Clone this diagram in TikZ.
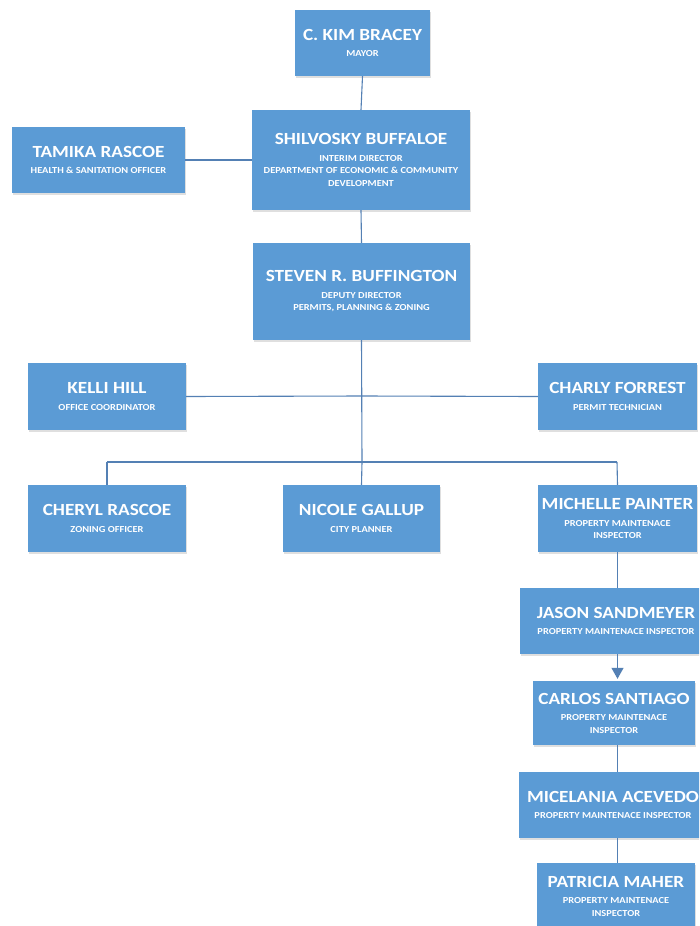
\documentclass[tikz,border=0pt]{standalone}
\usepackage{fontspec}
\setmainfont{Carlito}
\newfontfamily\subfam[FakeStretch=1.13]{Carlito}
\usetikzlibrary{shadows,arrows.meta}
\definecolor{boxblue}{RGB}{91,155,213}
\definecolor{lineblue}{RGB}{84,128,180}
\newcommand{\namef}{\fontsize{17}{18}\selectfont\bfseries}
\newcommand{\subf}{\subfam\fontsize{9.2}{12.3}\selectfont\bfseries}
\tikzset{
  orgbox/.style={fill=boxblue, text=white, align=center, inner sep=0pt,
    font=\subf, drop shadow={shadow xshift=1.2pt, shadow yshift=-1.5pt, opacity=0.25}},
  link/.style={draw=lineblue, line width=1.1pt},
}
\newcommand{\nm}[1]{{\namef #1}\\[4.4pt]}
\begin{document}
\begin{tikzpicture}[x=1pt,y=-1pt]
\useasboundingbox (0,0) rectangle (699,926);
\clip (0,0) rectangle (699,926);
\fill[white] (0,0) rectangle (699,926);
% connector points
\coordinate (bar) at (362,462);
\coordinate (barL) at (107,462);
\coordinate (barR) at (617,462);
\coordinate (mid) at (362,396);

\node[orgbox, minimum width=135pt, minimum height=66pt] (mayor) at (362.5,43) {\nm{C. KIM BRACEY}MAYOR};
\node[orgbox, minimum width=173pt, minimum height=66pt] (tamika) at (98.5,160) {\nm{TAMIKA RASCOE}HEALTH \& SANITATION OFFICER};
\node[orgbox, minimum width=218pt, minimum height=100pt] (shil) at (361,160) {\nm{SHILVOSKY BUFFALOE}INTERIM DIRECTOR\\DEPARTMENT OF ECONOMIC \& COMMUNITY\\DEVELOPMENT};
\node[orgbox, minimum width=217pt, minimum height=97pt] (steven) at (361.5,291.5) {\nm{STEVEN R. BUFFINGTON}DEPUTY DIRECTOR\\PERMITS, PLANNING \& ZONING};
\node[orgbox, minimum width=158pt, minimum height=67pt] (kelli) at (107,396.5) {\nm{KELLI HILL}OFFICE COORDINATOR};
\node[orgbox, minimum width=159pt, minimum height=67pt] (charly) at (617.5,396.5) {\nm{CHARLY FORREST}PERMIT TECHNICIAN};
\node[orgbox, minimum width=158pt, minimum height=67pt] (cheryl) at (107,518.5) {\nm{CHERYL RASCOE}ZONING OFFICER};
\node[orgbox, minimum width=157pt, minimum height=67pt] (nicole) at (361.5,518.5) {\nm{NICOLE GALLUP}CITY PLANNER};
\node[orgbox, minimum width=159pt, minimum height=67pt] (michelle) at (617.5,518.5) {\nm{MICHELLE PAINTER}PROPERTY MAINTENACE\\INSPECTOR};
\node[orgbox, minimum width=192pt, minimum height=66pt] (jason) at (616,621) {\nm{JASON SANDMEYER}PROPERTY MAINTENACE INSPECTOR};
\node[orgbox, minimum width=162pt, minimum height=64pt] (carlos) at (614,713) {\nm{CARLOS SANTIAGO}PROPERTY MAINTENACE\\INSPECTOR};
\node[orgbox, minimum width=188pt, minimum height=66pt] (micel) at (613,805) {\nm{MICELANIA ACEVEDO}PROPERTY MAINTENACE INSPECTOR};
\node[orgbox, minimum width=158pt, minimum height=66pt] (patricia) at (616,896) {\nm{PATRICIA MAHER}PROPERTY MAINTENACE\\INSPECTOR};

\draw[link] (mayor.south) -- (shil.north);
\draw[link] (tamika.east) -- (shil.west);
\draw[link] (shil.south) -- (steven.north);
\draw[link] (steven.south) -- (bar);
\draw[link] (kelli.east) -- (mid) -- (charly.west);
\draw[link] (barL) -- (barR);
\draw[link] (barL) -- (cheryl.north);
\draw[link] (bar) -- (nicole.north);
\draw[link] (barR) -- (michelle.north);
\draw[link] (michelle.south) -- (michelle.south |- jason.north);
\draw[link, -{Triangle[length=11pt,width=12pt]}] (michelle.south |- jason.south) -- ([yshift=2pt]michelle.south |- carlos.north);
\draw[link] (michelle.south |- carlos.south) -- (michelle.south |- micel.north);
\draw[link] (michelle.south |- micel.south) -- (michelle.south |- patricia.north);
\end{tikzpicture}
\end{document}
